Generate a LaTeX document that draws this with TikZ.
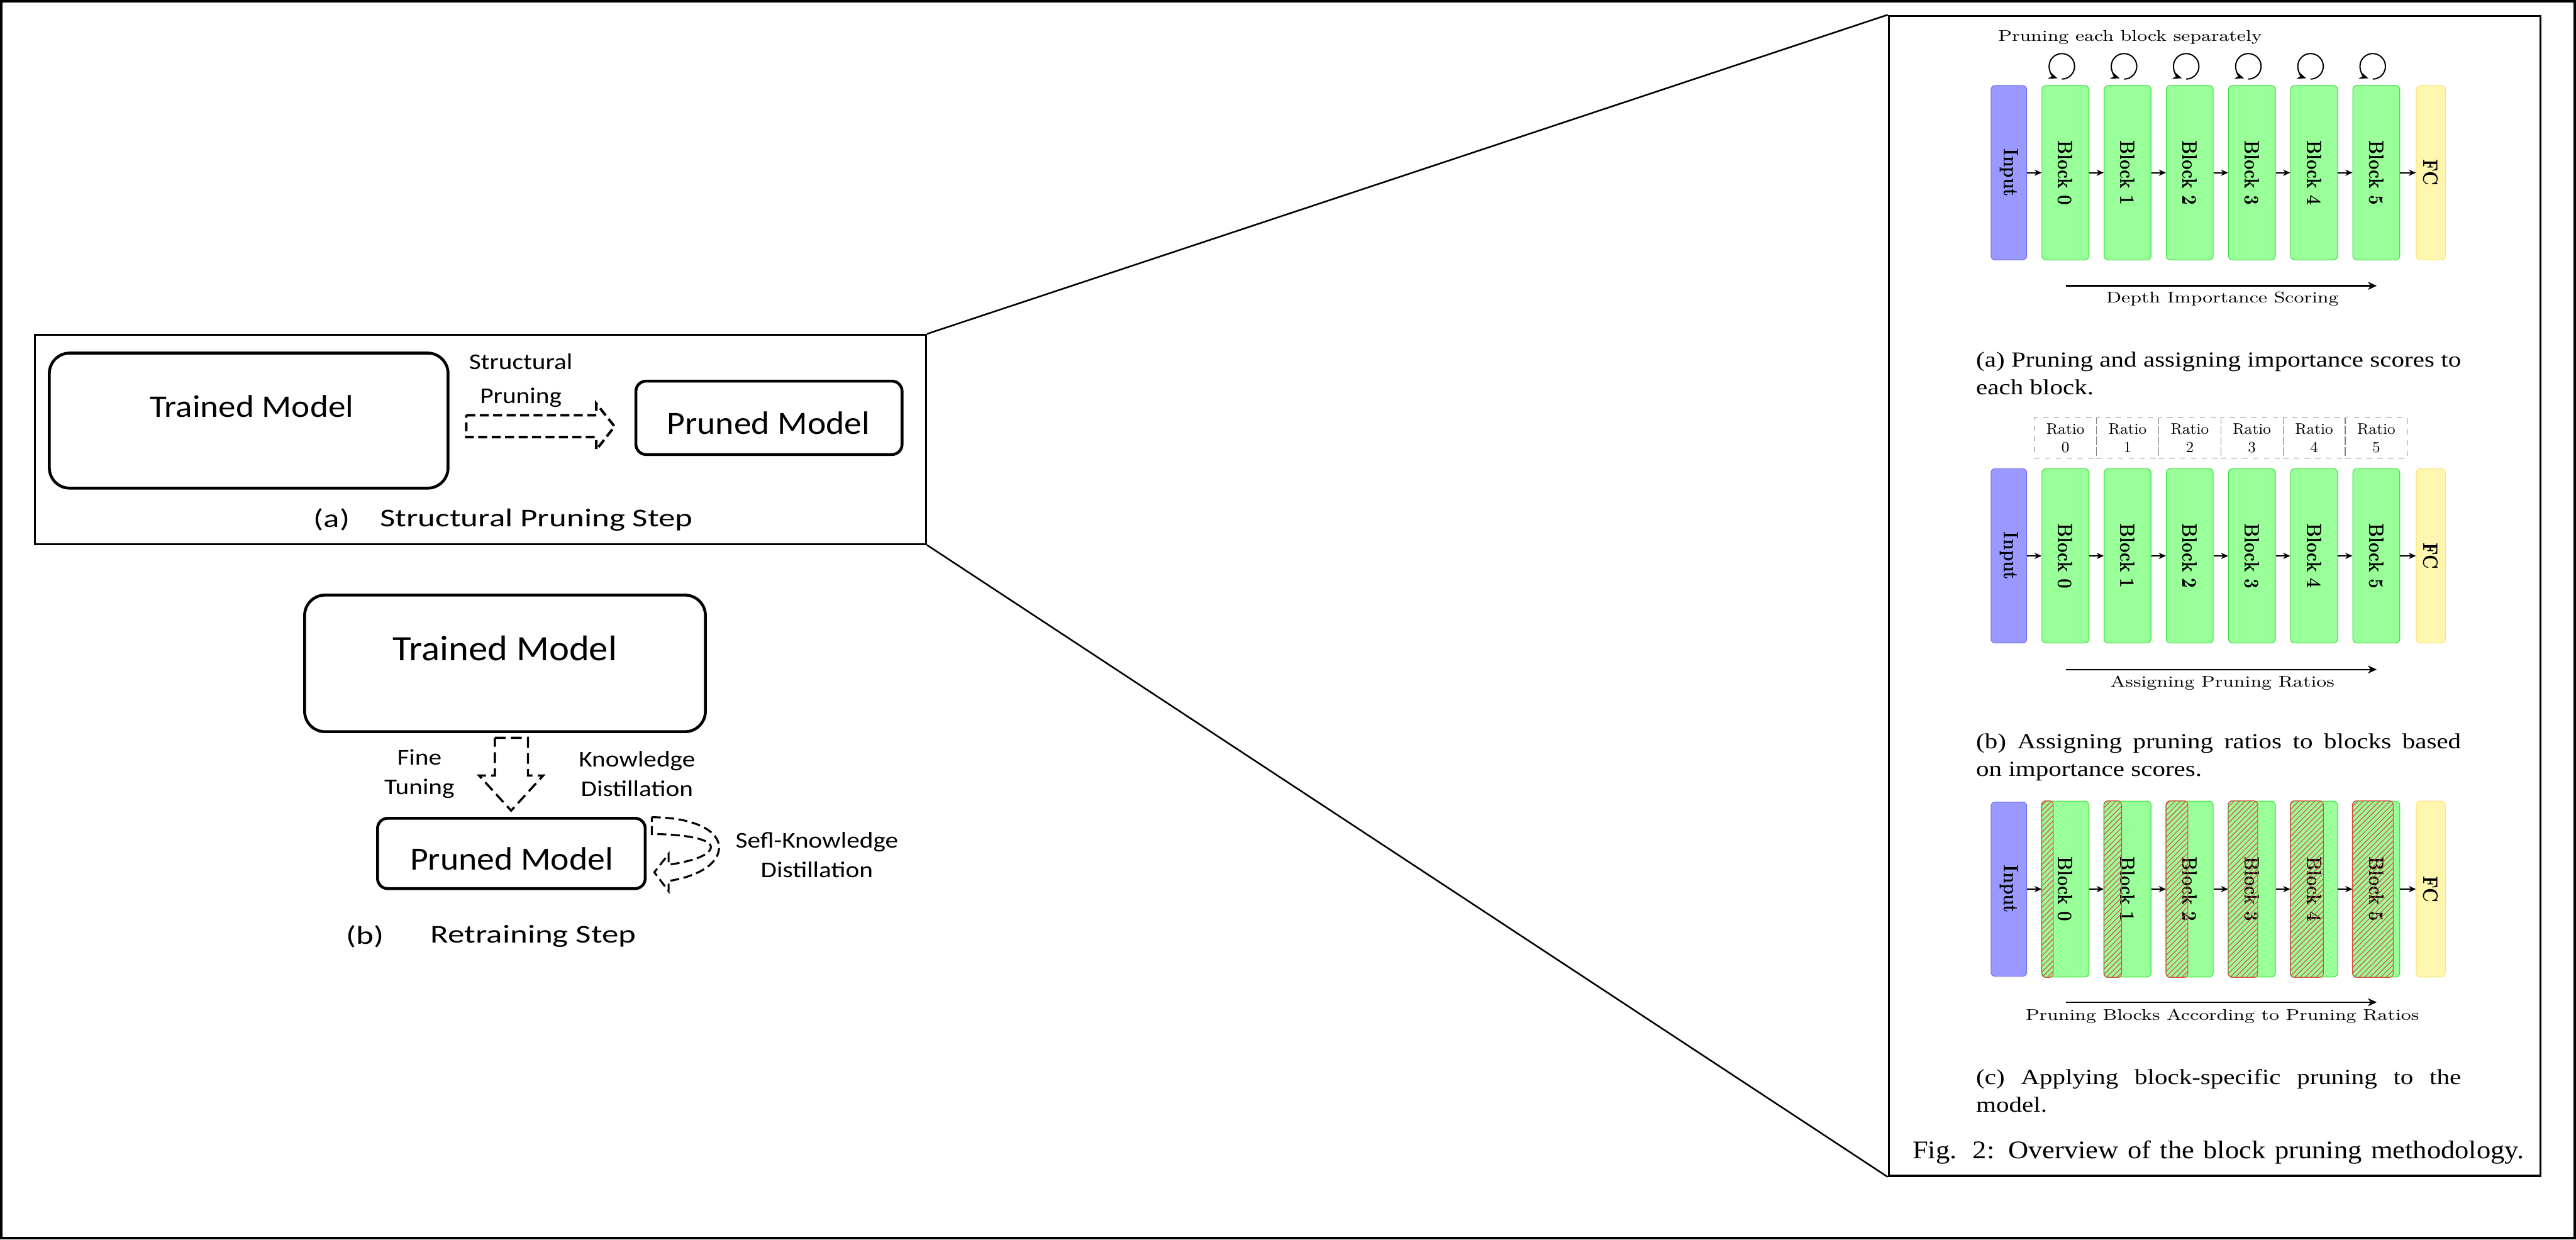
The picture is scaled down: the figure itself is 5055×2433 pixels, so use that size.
\documentclass[tikz,border=0pt]{standalone}
\usepackage{fontspec}
\usepackage{graphicx}
\newfontfamily\sidefont{Carlito}
\newfontfamily\capfont{Liberation Serif}
\usepackage{xcolor}
\definecolor{InpFill}{RGB}{153,153,255}
\definecolor{InpLine}{RGB}{110,110,250}
\definecolor{BlkFill}{RGB}{153,255,153}
\definecolor{BlkLine}{RGB}{60,225,60}
\definecolor{FCFill}{RGB}{255,246,175}
\definecolor{FCLine}{RGB}{255,226,120}
\definecolor{HatchCol}{RGB}{225,70,70}
\usepackage{tikz}
\usetikzlibrary{patterns}
\usetikzlibrary{arrows.meta}
\newcommand{\Lbl}[1]{\scalebox{1.25}[1]{\rotatebox{-90}{\fontsize{9.3}{11}\selectfont\bfseries #1}}}
\tikzstyle{Frame}=[draw,line width=0.9pt,inner sep=0pt]
\tikzstyle{Model}=[draw,line width=1.6pt,rounded corners=0.4cm,inner sep=0pt]
\tikzstyle{Flow}=[draw,line width=1.4pt,dash pattern=on 5pt off 2.5pt]
\tikzstyle{Big}=[inner sep=0pt]
\tikzstyle{Small}=[font=\sidefont\fontsize{12.6}{16.5}\selectfont,xscale=1.15,align=center,inner sep=0pt]
\tikzstyle{Step}=[font=\sidefont\fontsize{14.3}{17}\selectfont,xscale=1.3,inner sep=0pt]
\tikzstyle{Input}=[draw=InpLine,fill=InpFill,rounded corners=0.08cm,minimum width=0.70cm,minimum height=3.42cm,inner sep=0pt]
\tikzstyle{Block}=[draw=BlkLine,fill=BlkFill,rounded corners=0.08cm,minimum width=0.92cm,minimum height=3.42cm,inner sep=0pt]
\tikzstyle{FC}=[draw=FCLine,fill=FCFill,rounded corners=0.08cm,minimum width=0.57cm,minimum height=3.42cm,inner sep=0pt]
\tikzstyle{Edge}=[-{Stealth[length=4pt,width=3.5pt]},line width=0.6pt]
\tikzstyle{Long}=[-{Stealth[length=5pt,width=4.5pt]},line width=0.8pt]
\tikzstyle{Loop}=[-{Stealth[length=5pt,width=4pt]},line width=0.7pt]
\tikzstyle{Ratio}=[draw=gray,dashed,minimum width=1.22cm,minimum height=0.79cm,align=center,inner sep=0pt,
font=\fontsize{8.6}{10.3}\selectfont]
\tikzstyle{Hatch}=[draw=HatchCol,pattern=north east lines,pattern color=HatchCol,rounded corners=0.08cm]
\tikzstyle{NodeST}=[font=\fontsize{8.7}{10}\selectfont,xscale=1.25,inner sep=0pt]
\tikzstyle{Cap}=[align=left,inner sep=0pt]

\begin{document}
\begin{tikzpicture}[x=0.01cm,y=-0.01cm]
    \useasboundingbox (0,0) rectangle (5055,2433);
    \draw[line width=1.4pt] (2.5,2.5) rectangle (5052.5,2430.5);
    % (a) structural pruning
    \node[Frame,minimum width=17.48cm,minimum height=4.11cm](stepa)at(943,862.5){};
    \node[Model,minimum width=7.82cm,minimum height=2.65cm](traina)at(488,825.5){};
    \node[Big,font=\sidefont\fontsize{17.6}{20}\selectfont,xscale=1.1](trainat)at(494,797){Trained Model};
    \node[Model,rounded corners=0.2cm,minimum width=5.22cm,minimum height=1.44cm](pruna)at(1509,820){};
    \node[Big,font=\sidefont\fontsize{18.1}{20}\selectfont,xscale=1.08](prunat)at(1508,830){Pruned Model};
    \node[Small,font=\sidefont\fontsize{12.6}{18.8}\selectfont](spl)at(1022,747){Structural\\Pruning};
    \draw[Flow] (915,815) -- (1170,815) -- (1170,792) -- (1206,837) -- (1170,883)
        -- (1170,858) -- (915,858) -- cycle;
    \node[Step](capa)at(651,1020){(a)};
    \node[Step,anchor=west](capat)at(745,1020){Structural Pruning Step};
    % (b) retraining
    \node[Model,minimum width=7.86cm,minimum height=2.68cm](trainb)at(991,1302){};
    \node[Big,font=\sidefont\fontsize{19.9}{22}\selectfont,xscale=1.07](trainbt)at(991,1273){Trained Model};
    \node[Model,rounded corners=0.2cm,minimum width=5.25cm,minimum height=1.38cm](prunb)at(1003.5,1675){};
    \node[Big,font=\sidefont\fontsize{18.1}{20}\selectfont,xscale=1.08](prunbt)at(1004,1685){Pruned Model};
    \draw[Flow,line width=1.2pt,dash pattern=on 6pt off 3pt] (971,1448) -- (1036,1448) -- (1036,1522) -- (1066,1522) -- (1003,1591)
        -- (940,1522) -- (971,1522) -- cycle;
    \node[Small](ft)at(823,1519){Fine\\Tuning};
    \node[Small](kd)at(1250,1519){Knowledge\\Distillation};
    \draw[Flow,line width=1.1pt,dash pattern=on 5pt off 2.5pt] (1279,1604) .. controls (1360,1604) and (1413,1630) .. (1411,1665)
        .. controls (1409,1700) and (1360,1722) .. (1312,1729) -- (1312,1749) -- (1284,1712)
        -- (1312,1676) -- (1312,1697) .. controls (1350,1692) and (1395,1680) .. (1395,1662)
        .. controls (1394,1645) and (1335,1637) .. (1279,1637) -- cycle;
    \node[Small](skd)at(1603,1678){Sefl-Knowledge\\Distillation};
    \node[Step](capb)at(716,1838){(b)};
    \node[Step,anchor=west](capbt)at(844,1838){Retraining Step};
    % zoomed panel
    \node[draw,line width=1.3pt,minimum width=12.78cm,minimum height=22.75cm,inner sep=0pt](panel)at(4346,1169.5){};
    \draw[line width=0.9pt] (stepa.north east) -- (panel.north west);
    \draw[line width=0.9pt] (stepa.south east) -- (panel.south west);
    % row a
    \node[NodeST](pes)at(4180,73){Pruning each block separately};
    \node[Input](ai)at(3942,339){\Lbl{Input}};
    \node[Block](a0)at(4053,339){\Lbl{Block 0}};
    \node[Block](a1)at(4175,339){\Lbl{Block 1}};
    \node[Block](a2)at(4297,339){\Lbl{Block 2}};
    \node[Block](a3)at(4419,339){\Lbl{Block 3}};
    \node[Block](a4)at(4541,339){\Lbl{Block 4}};
    \node[Block](a5)at(4663,339){\Lbl{Block 5}};
    \node[FC](af)at(4770,339){\Lbl{FC}};
    \draw[Edge](ai)--(a0);
    \draw[Edge](a0)--(a1);
    \draw[Edge](a1)--(a2);
    \draw[Edge](a2)--(a3);
    \draw[Edge](a3)--(a4);
    \draw[Edge](a4)--(a5);
    \draw[Edge](a5)--(af);
    \draw[Loop] ([shift={(-7,-12)}]a0.north) arc[start angle=-90,end angle=250,radius=0.25cm];
    \draw[Loop] ([shift={(-7,-12)}]a1.north) arc[start angle=-90,end angle=250,radius=0.25cm];
    \draw[Loop] ([shift={(-7,-12)}]a2.north) arc[start angle=-90,end angle=250,radius=0.25cm];
    \draw[Loop] ([shift={(-7,-12)}]a3.north) arc[start angle=-90,end angle=250,radius=0.25cm];
    \draw[Loop] ([shift={(-7,-12)}]a4.north) arc[start angle=-90,end angle=250,radius=0.25cm];
    \draw[Loop] ([shift={(-7,-12)}]a5.north) arc[start angle=-90,end angle=250,radius=0.25cm];
    \coordinate(dis)at(4054,561);
    \coordinate(die)at(4664,561);
    \draw[Long](dis)--(die);
    \node[NodeST](dil)at(4361,587){Depth Importance Scoring};
    \node[Cap,anchor=west,font=\capfont\fontsize{12}{15.4}\selectfont,xscale=1.2](capra)at(3877,733){\makebox[7.925cm][s]{(a) Pruning and assigning importance scores to}\\each block.};
    % row b
    \node[Ratio](r0)at(4053,860){Ratio\\0};
    \node[Ratio](r1)at(4175,860){Ratio\\1};
    \node[Ratio](r2)at(4297,860){Ratio\\2};
    \node[Ratio](r3)at(4419,860){Ratio\\3};
    \node[Ratio](r4)at(4541,860){Ratio\\4};
    \node[Ratio](r5)at(4663,860){Ratio\\5};
    \node[Input](bi)at(3942,1091){\Lbl{Input}};
    \node[Block](b0)at(4053,1091){\Lbl{Block 0}};
    \node[Block](b1)at(4175,1091){\Lbl{Block 1}};
    \node[Block](b2)at(4297,1091){\Lbl{Block 2}};
    \node[Block](b3)at(4419,1091){\Lbl{Block 3}};
    \node[Block](b4)at(4541,1091){\Lbl{Block 4}};
    \node[Block](b5)at(4663,1091){\Lbl{Block 5}};
    \node[FC](bf)at(4770,1091){\Lbl{FC}};
    \draw[Edge](bi)--(b0);
    \draw[Edge](b0)--(b1);
    \draw[Edge](b1)--(b2);
    \draw[Edge](b2)--(b3);
    \draw[Edge](b3)--(b4);
    \draw[Edge](b4)--(b5);
    \draw[Edge](b5)--(bf);
    \coordinate(aps)at(4054,1314);
    \coordinate(ape)at(4664,1314);
    \draw[Long](aps)--(ape);
    \node[NodeST](apl)at(4361,1341){Assigning Pruning Ratios};
    \node[Cap,anchor=west,font=\capfont\fontsize{12}{15.4}\selectfont,xscale=1.2](caprb)at(3877,1486){\makebox[7.925cm][s]{(b) Assigning pruning ratios to blocks based}\\on importance scores.};
    % row c
    \node[Input](ci)at(3942,1745){\Lbl{Input}};
    \node[Block,minimum height=3.45cm](c0)at(4053,1745){\Lbl{Block 0}};
    \node[Block,minimum height=3.45cm](c1)at(4175,1745){\Lbl{Block 1}};
    \node[Block,minimum height=3.45cm](c2)at(4297,1745){\Lbl{Block 2}};
    \node[Block,minimum height=3.45cm](c3)at(4419,1745){\Lbl{Block 3}};
    \node[Block,minimum height=3.45cm](c4)at(4541,1745){\Lbl{Block 4}};
    \node[Block,minimum height=3.45cm](c5)at(4663,1745){\Lbl{Block 5}};
    \node[FC,minimum height=3.45cm](cf)at(4770,1745){\Lbl{FC}};
    \draw[Hatch] (c0.north west) rectangle ([xshift=0.23cm]c0.south west);
    \draw[Hatch] (c1.north west) rectangle ([xshift=0.35cm]c1.south west);
    \draw[Hatch] (c2.north west) rectangle ([xshift=0.43cm]c2.south west);
    \draw[Hatch] (c3.north west) rectangle ([xshift=0.58cm]c3.south west);
    \draw[Hatch] (c4.north west) rectangle ([xshift=0.65cm]c4.south west);
    \draw[Hatch] (c5.north west) rectangle ([xshift=0.80cm]c5.south west);
    \draw[Edge](ci)--(c0);
    \draw[Edge](c0)--(c1);
    \draw[Edge](c1)--(c2);
    \draw[Edge](c2)--(c3);
    \draw[Edge](c3)--(c4);
    \draw[Edge](c4)--(c5);
    \draw[Edge](c5)--(cf);
    \coordinate(pbs)at(4054,1967);
    \coordinate(pbe)at(4664,1967);
    \draw[Long](pbs)--(pbe);
    \node[NodeST](pbl)at(4361,1994){Pruning Blocks According to Pruning Ratios};
    \node[Cap,anchor=west,font=\capfont\fontsize{12}{15.4}\selectfont,xscale=1.2](caprc)at(3877,2141){\makebox[7.925cm][s]{(c) Applying block-specific pruning to the}\\model.};
    \node[Cap,font=\capfont\fontsize{14.2}{17}\selectfont,xscale=1.1](fig)at(4353,2262){\makebox[10.9cm][s]{Fig. 2: Overview of the block pruning methodology.}};
\end{tikzpicture}
\end{document}
